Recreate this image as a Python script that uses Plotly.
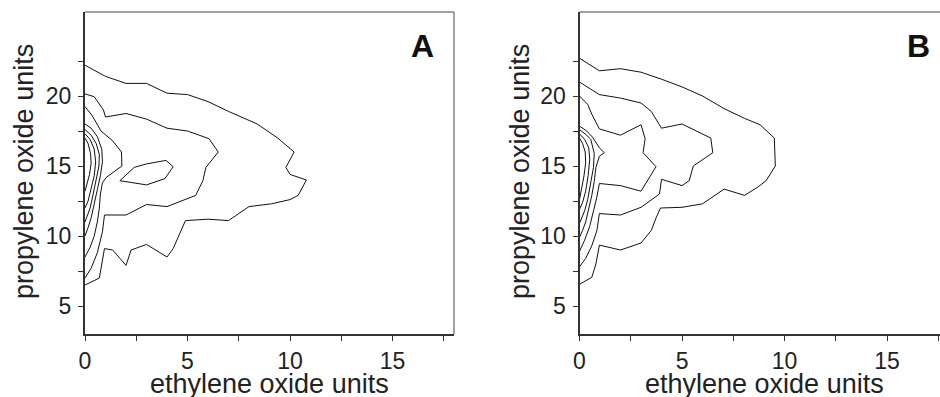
import plotly.graph_objects as go

# ---------------- data ----------------
# Panel A contour lines (ethylene oxide units, propylene oxide units)
A1_X = [0, 1.0, 2.0, 3.0, 4.0, 5.0, 6.0, 7.0, 8.4, 9.4, 10.2, 9.8, 10.0, 10.8, 10.4, 10.0, 9.1, 8.0, 7.0, 6.0, 4.9, 4.3, 4.0, 3.0, 2.25, 2.0, 1.35, 0.95, 0.7, 0]
A1_Y = [22.2, 21.4, 20.9, 20.9, 20.2, 20.1, 19.6, 18.9, 18.0, 17.0, 16.0, 14.9, 14.4, 14.0, 12.9, 12.6, 12.3, 12.1, 11.1, 11.2, 11.1, 9.1, 8.5, 9.4, 9.0, 7.9, 9.0, 9.1, 7.0, 6.5]
A2_X = [0, 0.45, 0.9, 1.0, 2.0, 3.0, 4.0, 5.0, 6.05, 6.5, 5.9, 5.75, 5.4, 4.95, 4.0, 3.0, 2.0, 0.95, 0.85, 0.6, 0.3, 0]
A2_Y = [20.15, 19.95, 19.0, 18.5, 18.75, 18.35, 17.7, 17.5, 16.95, 16.0, 14.9, 13.95, 12.9, 12.65, 12.1, 12.25, 11.5, 11.5, 10.3, 8.8, 7.7, 7.0]
A3_X = [0, 0.35, 0.78, 1.35, 1.78, 1.8, 1.05, 0.85, 0.75, 0.7, 0.6, 0.45, 0.25, 0]
A3_Y = [19.25, 18.6, 17.5, 16.8, 16.0, 15.0, 14.2, 13.8, 13.0, 12.0, 11.0, 10.0, 9.2, 8.5]
A3I_X = [1.7, 2.4, 3.0, 3.95, 4.3, 3.9, 3.0, 1.7]
A3I_Y = [13.95, 14.9, 15.15, 15.4, 14.95, 14.1, 13.65, 13.95]
A4_X = [0, 0.3, 0.6, 0.82, 0.85, 0.75, 0.6, 0.45, 0.3, 0.15, 0]
A4_Y = [18.0, 17.7, 17.1, 16.2, 15.3, 14.3, 13.3, 12.3, 11.3, 10.6, 10.0]
A5_X = [0, 0.3, 0.55, 0.7, 0.68, 0.55, 0.4, 0.25, 0.1, 0]
A5_Y = [17.6, 17.2, 16.6, 15.8, 15.0, 14.0, 13.0, 12.0, 11.3, 11.0]
A6_X = [0, 0.25, 0.45, 0.52, 0.45, 0.3, 0.15, 0]
A6_Y = [17.3, 16.9, 16.2, 15.3, 14.3, 13.3, 12.5, 12.0]
A7_X = [0, 0.15, 0.27, 0.3, 0.22, 0.1, 0]
A7_Y = [17.0, 16.6, 15.9, 15.2, 14.4, 13.7, 13.2]

# Panel B contour lines
B1_X = [0, 0.97, 2.0, 3.0, 4.0, 5.0, 6.0, 7.05, 8.05, 8.8, 9.5, 9.55, 9.1, 8.7, 8.05, 7.05, 6.0, 5.0, 3.95, 3.75, 3.5, 3.0, 2.0, 0.97, 0.8, 0.6, 0]
B1_Y = [22.7, 21.8, 21.95, 21.7, 21.2, 20.65, 20.0, 19.1, 18.4, 17.95, 17.0, 15.0, 13.95, 13.5, 12.9, 13.35, 12.3, 12.05, 12.0, 11.35, 10.4, 9.5, 9.0, 9.35, 8.0, 7.05, 6.55]
B2_X = [0, 0.97, 2.0, 3.0, 3.5, 4.0, 5.0, 6.4, 6.5, 5.55, 5.35, 5.0, 4.0, 3.9, 3.0, 2.0, 0.97, 0.85, 0.6, 0.3, 0]
B2_Y = [21.0, 20.1, 19.85, 19.5, 18.9, 17.7, 18.0, 17.0, 15.95, 15.0, 13.95, 13.6, 14.05, 13.0, 12.05, 11.5, 11.6, 10.4, 9.3, 8.4, 7.8]
B3_X = [0, 0.4, 0.6, 0.97, 2.0, 3.0, 3.2, 3.1, 3.73, 3.0, 2.0, 0.97, 0.85, 0.7, 0.5, 0.25, 0]
B3_Y = [20.0, 19.4, 18.7, 17.65, 17.2, 17.95, 16.95, 15.95, 14.95, 13.2, 13.6, 13.75, 12.8, 11.8, 10.7, 9.7, 8.9]
B4_X = [0, 0.35, 0.64, 0.97, 1.21, 0.97, 0.8, 0.72, 0.6, 0.45, 0.3, 0.15, 0]
B4_Y = [17.85, 17.5, 17.05, 16.3, 15.95, 15.7, 14.9, 13.9, 12.9, 11.9, 11.0, 10.4, 9.9]
B5_X = [0, 0.35, 0.55, 0.72, 0.68, 0.55, 0.4, 0.25, 0.1, 0]
B5_Y = [17.6, 17.2, 16.9, 15.9, 14.9, 13.7, 12.6, 11.8, 11.2, 10.9]
B6_X = [0, 0.25, 0.45, 0.5, 0.42, 0.3, 0.15, 0]
B6_Y = [17.3, 16.9, 16.3, 15.5, 14.3, 13.2, 12.4, 11.9]
B7_X = [0, 0.15, 0.28, 0.3, 0.22, 0.1, 0]
B7_Y = [17.0, 16.6, 16.0, 15.2, 14.3, 13.3, 12.6]

X_TICKS = [0, 5, 10, 15]
X_MINOR = [2.5, 7.5, 12.5, 17.5]
Y_TICKS = [5, 10, 15, 20]
Y_MINOR = [7.5, 12.5, 17.5, 22.5]
X_TITLE = "ethylene oxide units"
Y_TITLE = "propylene oxide units"
PANEL_LABELS = ["A", "B"]

# ---------------- figure ----------------
FONT = "Liberation Sans, Arial, Helvetica, sans-serif"
fig = go.Figure()

panel_a = [(A1_X, A1_Y), (A2_X, A2_Y), (A3_X, A3_Y), (A3I_X, A3I_Y),
           (A4_X, A4_Y), (A5_X, A5_Y), (A6_X, A6_Y), (A7_X, A7_Y)]
panel_b = [(B1_X, B1_Y), (B2_X, B2_Y), (B3_X, B3_Y), (B4_X, B4_Y),
           (B5_X, B5_Y), (B6_X, B6_Y), (B7_X, B7_Y)]

for xs, ys in panel_a:
    fig.add_trace(go.Scatter(x=xs, y=ys, mode="lines", xaxis="x", yaxis="y",
                             line=dict(color="#111", width=1), showlegend=False,
                             hoverinfo="skip"))
for xs, ys in panel_b:
    fig.add_trace(go.Scatter(x=xs, y=ys, mode="lines", xaxis="x2", yaxis="y2",
                             line=dict(color="#111", width=1), showlegend=False,
                             hoverinfo="skip"))

W, H = 940, 397
ydom = [(H - 334) / H, (H - 12) / H]
axcol = "#333"
TICKFONT = dict(family=FONT, size=23, color="#222")
TITLEFONT = dict(family=FONT, size=27, color="#222")

def xaxis(domain, rng, anchor):
    return dict(domain=domain, range=rng, anchor=anchor, showgrid=False, zeroline=False,
                automargin=False,
                showline=True, linecolor=axcol, linewidth=2,
                tickmode="array", tickvals=X_TICKS, ticks="outside", ticklen=5,
                tickwidth=1, tickcolor=axcol, ticklabelstandoff=0,
                minor=dict(tickmode="array", tickvals=X_MINOR, ticks="outside",
                           ticklen=5, tickwidth=1, tickcolor=axcol),
                tickfont=TICKFONT)

def yaxis(anchor):
    return dict(domain=ydom, range=[3, 26], anchor=anchor, showgrid=False, zeroline=False,
                automargin=False,
                showline=True, linecolor=axcol, linewidth=2,
                tickmode="array", tickvals=Y_TICKS, ticks="outside", ticklen=5,
                tickwidth=1, tickcolor=axcol, ticklabelstandoff=2,
                minor=dict(tickmode="array", tickvals=Y_MINOR, ticks="outside",
                           ticklen=5, tickwidth=1, tickcolor=axcol),
                tickfont=TICKFONT)

fig.update_layout(
    width=W, height=H, margin=dict(l=0, r=0, t=0, b=0),
    paper_bgcolor="white", plot_bgcolor="white",
    xaxis=xaxis([85 / W, 454 / W], [0, 18], "y"),
    yaxis=yaxis("x"),
    xaxis2=xaxis([579.5 / W, 1.0], [0, 17.58], "y2"),
    yaxis2=yaxis("x2"),
    font=dict(family=FONT),
)

# axis titles (placed as annotations near the bottom edge as in the source)
for cx in [269 / W, 764 / W]:
    fig.add_annotation(text=X_TITLE, xref="paper", yref="paper", x=cx, y=(H - 384) / H,
                       showarrow=False, xanchor="center", yanchor="middle",
                       font=TITLEFONT)
for cx in [24 / W, 520 / W]:
    fig.add_annotation(text=Y_TITLE, xref="paper", yref="paper", x=cx, y=(H - 172) / H,
                       showarrow=False, xanchor="center", yanchor="middle", textangle=-90,
                       font=TITLEFONT)

# thin top / right frame lines
for xr, yr, right in [("x domain", "y domain", True), ("x2 domain", "y2 domain", False)]:
    fig.add_shape(type="line", xref=xr, yref=yr, x0=0, x1=1, y0=1, y1=1,
                  line=dict(color="#444", width=1))
    if right:
        fig.add_shape(type="line", xref=xr, yref=yr, x0=1, x1=1, y0=0, y1=1,
                      line=dict(color="#444", width=1))

# panel letters
for lab, xr, yr, xpos in [(PANEL_LABELS[0], "x domain", "y domain", 0.915),
                          (PANEL_LABELS[1], "x2 domain", "y2 domain", 0.94)]:
    fig.add_annotation(text=f"<b>{lab}</b>", xref=xr, yref=yr, x=xpos, y=0.895,
                       showarrow=False, xanchor="center", yanchor="middle",
                       font=dict(family=FONT, size=32, color="#111"))

fig.write_html("out.html")
